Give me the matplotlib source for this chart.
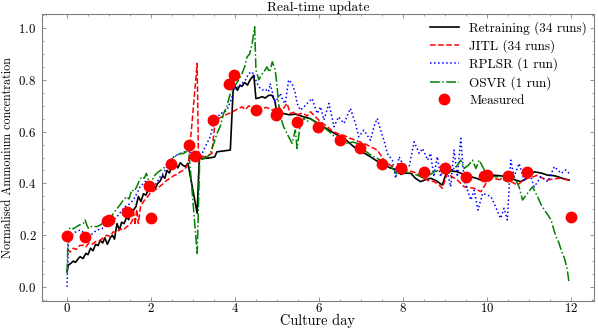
import numpy as np
import matplotlib
matplotlib.use("Agg")
import matplotlib.pyplot as plt
from matplotlib.ticker import MultipleLocator

plt.rcParams['font.family'] = ['cmr10', 'DejaVu Serif']
plt.rcParams['mathtext.fontset'] = 'cm'
plt.rcParams['axes.formatter.use_mathtext'] = True

# ---- data ----
retrain_x = [0.0, 0.03, 0.08, 0.15, 0.2, 0.27, 0.31, 0.38, 0.45, 0.5,
             0.56, 0.62, 0.68, 0.74, 0.79, 0.85, 0.9, 0.96, 1.03, 1.08,
             1.13, 1.19, 1.25, 1.3, 1.36, 1.42, 1.47, 1.52, 1.58, 1.64,
             1.7, 1.76, 1.82, 1.88, 1.93, 1.98, 2.05, 2.1, 2.16, 2.22,
             2.28, 2.33, 2.38, 2.44, 2.5, 2.58, 2.64, 2.7, 2.76, 2.82,
             2.88, 3.1, 3.15, 3.3, 3.45, 3.52, 3.57, 3.7, 3.89, 3.96,
             4.01, 4.06, 4.12, 4.17, 4.23, 4.3, 4.36, 4.45, 4.5, 4.56,
             4.65, 4.72, 4.8, 4.88, 4.95, 5.0, 5.16, 5.3, 5.45, 5.64,
             5.8, 5.9, 6.04, 6.2, 6.3, 6.44, 6.6, 6.7, 6.83, 6.95,
             7.05, 7.23, 7.35, 7.45, 7.55, 7.7, 7.87, 7.95, 8.05, 8.19,
             8.3, 8.42, 8.55, 8.66, 8.8, 8.94, 9.06, 9.18, 9.3, 9.45,
             9.62, 9.75, 9.86, 10.0, 10.14, 10.3, 10.49, 10.65, 10.81, 10.95,
             11.13, 11.3, 11.45, 11.6, 11.69, 11.8, 11.96]
retrain_y = [0.06, 0.085, 0.09, 0.1, 0.095, 0.11, 0.117, 0.11, 0.13, 0.125,
             0.15, 0.14, 0.165, 0.16, 0.18, 0.17, 0.19, 0.165, 0.19, 0.2,
             0.185, 0.245, 0.22, 0.25, 0.245, 0.27, 0.26, 0.3, 0.297, 0.31,
             0.35, 0.33, 0.36, 0.355, 0.375, 0.375, 0.39, 0.38, 0.4, 0.41,
             0.43, 0.42, 0.45, 0.44, 0.47, 0.478, 0.46, 0.48, 0.47, 0.465,
             0.478, 0.285, 0.497, 0.497, 0.5, 0.503, 0.522, 0.525, 0.529, 0.77,
             0.773, 0.76, 0.78, 0.775, 0.79, 0.78, 0.8, 0.818, 0.728, 0.73,
             0.735, 0.73, 0.74, 0.741, 0.72, 0.67, 0.67, 0.665, 0.668, 0.657,
             0.65, 0.64, 0.625, 0.61, 0.6, 0.587, 0.575, 0.56, 0.542, 0.53,
             0.52, 0.503, 0.49, 0.48, 0.471, 0.46, 0.452, 0.435, 0.44, 0.439,
             0.42, 0.407, 0.415, 0.42, 0.41, 0.394, 0.452, 0.448, 0.445, 0.435,
             0.426, 0.42, 0.413, 0.42, 0.432, 0.43, 0.426, 0.415, 0.407, 0.42,
             0.445, 0.44, 0.432, 0.43, 0.426, 0.42, 0.413]

jitl_x = [0.0, 0.03, 0.08, 0.15, 0.22, 0.3, 0.39, 0.45, 0.52, 0.6,
          0.68, 0.79, 0.86, 0.95, 1.02, 1.1, 1.18, 1.26, 1.34, 1.42,
          1.5, 1.55, 1.58, 1.62, 1.66, 1.7, 1.75, 1.82, 1.9, 1.98,
          2.06, 2.14, 2.22, 2.3, 2.38, 2.46, 2.54, 2.62, 2.7, 2.78,
          2.85, 2.9, 3.1, 3.13, 3.16, 3.2, 3.29, 3.38, 3.45, 3.53,
          3.6, 3.69, 3.78, 3.85, 3.93, 4.01, 4.09, 4.17, 4.25, 4.33,
          4.41, 4.5, 4.57, 4.65, 4.73, 4.81, 4.89, 4.97, 5.04, 5.12,
          5.2, 5.24, 5.32, 5.4, 5.48, 5.56, 5.64, 5.72, 5.8, 5.9,
          6.04, 6.2, 6.3, 6.44, 6.6, 6.75, 6.9, 7.07, 7.23, 7.39,
          7.47, 7.55, 7.7, 7.87, 8.0, 8.11, 8.23, 8.35, 8.5, 8.62,
          8.74, 8.86, 8.94, 9.06, 9.18, 9.3, 9.38, 9.46, 9.58, 9.7,
          9.78, 9.86, 9.98, 10.06, 10.14, 10.3, 10.49, 10.6, 10.73, 10.85,
          10.97, 11.1, 11.21, 11.33, 11.45, 11.6, 11.77, 11.87, 11.96]
jitl_y = [0.14, 0.143, 0.135, 0.15, 0.145, 0.16, 0.162, 0.155, 0.17, 0.165,
          0.175, 0.18, 0.19, 0.2, 0.195, 0.213, 0.21, 0.225, 0.22, 0.233,
          0.24, 0.255, 0.3, 0.24, 0.3, 0.245, 0.31, 0.33, 0.345, 0.362,
          0.37, 0.38, 0.39, 0.4, 0.413, 0.42, 0.43, 0.435, 0.445, 0.452,
          0.464, 0.49, 0.864, 0.516, 0.5, 0.505, 0.503, 0.51, 0.516, 0.645,
          0.65, 0.657, 0.665, 0.67, 0.675, 0.683, 0.69, 0.696, 0.685, 0.7,
          0.69, 0.68, 0.695, 0.685, 0.694, 0.69, 0.683, 0.69, 0.696, 0.68,
          0.7, 0.709, 0.67, 0.675, 0.665, 0.67, 0.67, 0.66, 0.677, 0.66,
          0.638, 0.62, 0.605, 0.593, 0.585, 0.574, 0.565, 0.555, 0.542, 0.529,
          0.51, 0.49, 0.47, 0.458, 0.445, 0.452, 0.445, 0.439, 0.42, 0.41,
          0.407, 0.395, 0.381, 0.439, 0.425, 0.413, 0.4, 0.387, 0.385, 0.381,
          0.375, 0.368, 0.4, 0.41, 0.42, 0.415, 0.413, 0.405, 0.394, 0.41,
          0.42, 0.425, 0.432, 0.42, 0.413, 0.418, 0.42, 0.415, 0.413]

rplsr_x = [0.0, 0.03, 0.08, 0.15, 0.23, 0.31, 0.4, 0.51, 0.6, 0.71,
           0.83, 0.95, 1.07, 1.19, 1.28, 1.38, 1.48, 1.58, 1.66, 1.74,
           1.82, 1.9, 2.03, 2.12, 2.22, 2.3, 2.38, 2.46, 2.54, 2.62,
           2.7, 2.78, 2.86, 2.95, 3.05, 3.1, 3.17, 3.23, 3.29, 3.35,
           3.41, 3.49, 3.57, 3.65, 3.73, 3.81, 3.9, 4.01, 4.09, 4.17,
           4.25, 4.33, 4.41, 4.47, 4.53, 4.59, 4.65, 4.72, 4.8, 4.84,
           4.92, 4.96, 5.02, 5.08, 5.14, 5.2, 5.28, 5.36, 5.44, 5.48,
           5.56, 5.64, 5.72, 5.84, 5.96, 6.04, 6.12, 6.24, 6.36, 6.47,
           6.6, 6.75, 6.87, 6.95, 7.07, 7.23, 7.31, 7.39, 7.47, 7.55,
           7.63, 7.75, 7.83, 7.91, 8.03, 8.15, 8.27, 8.39, 8.47, 8.59,
           8.66, 8.74, 8.82, 8.9, 9.02, 9.14, 9.22, 9.3, 9.38, 9.46,
           9.54, 9.62, 9.7, 9.79, 9.9, 10.1, 10.21, 10.33, 10.41, 10.49,
           10.57, 10.65, 10.77, 10.89, 11.01, 11.13, 11.29, 11.45, 11.61, 11.77,
           11.88, 11.96]
rplsr_y = [0.0, 0.169, 0.19, 0.207, 0.215, 0.22, 0.21, 0.194, 0.205, 0.22,
           0.225, 0.246, 0.255, 0.271, 0.29, 0.31, 0.32, 0.336, 0.36, 0.387,
           0.4, 0.413, 0.375, 0.4, 0.426, 0.44, 0.465, 0.48, 0.503, 0.51,
           0.516, 0.52, 0.529, 0.52, 0.51, 0.5, 0.503, 0.52, 0.542, 0.56,
           0.58, 0.632, 0.65, 0.67, 0.675, 0.683, 0.72, 0.773, 0.77, 0.786,
           0.8, 0.825, 0.831, 0.81, 0.786, 0.77, 0.761, 0.765, 0.754, 0.786,
           0.735, 0.709, 0.73, 0.748, 0.72, 0.709, 0.8, 0.786, 0.748, 0.709,
           0.683, 0.695, 0.709, 0.728, 0.67, 0.696, 0.645, 0.709, 0.619, 0.657,
           0.632, 0.69, 0.632, 0.58, 0.606, 0.567, 0.619, 0.651, 0.606, 0.567,
           0.516, 0.49, 0.42, 0.503, 0.465, 0.465, 0.561, 0.516, 0.535, 0.49,
           0.516, 0.426, 0.503, 0.426, 0.477, 0.387, 0.529, 0.426, 0.574, 0.413,
           0.374, 0.336, 0.374, 0.297, 0.362, 0.349, 0.31, 0.265, 0.304, 0.259,
           0.49, 0.426, 0.477, 0.413, 0.445, 0.387, 0.426, 0.407, 0.465, 0.439,
           0.452, 0.439]

osvr_x = [0.0, 0.03, 0.08, 0.15, 0.23, 0.3, 0.39, 0.43, 0.47, 0.51,
          0.6, 0.71, 0.8, 0.88, 0.95, 1.02, 1.1, 1.18, 1.26, 1.34,
          1.42, 1.48, 1.54, 1.6, 1.66, 1.72, 1.78, 1.84, 1.89, 1.98,
          2.06, 2.14, 2.22, 2.3, 2.38, 2.46, 2.54, 2.62, 2.7, 2.78,
          2.9, 3.1, 3.16, 3.25, 3.33, 3.4, 3.45, 3.51, 3.57, 3.65,
          3.73, 3.81, 3.89, 3.95, 4.01, 4.09, 4.17, 4.23, 4.29, 4.35,
          4.41, 4.47, 4.5, 4.57, 4.63, 4.69, 4.76, 4.83, 4.89, 4.96,
          5.0, 5.04, 5.1, 5.16, 5.22, 5.28, 5.36, 5.44, 5.48, 5.56,
          5.64, 5.72, 5.8, 5.88, 5.96, 6.08, 6.2, 6.32, 6.44, 6.56,
          6.68, 6.8, 6.92, 7.0, 7.07, 7.15, 7.23, 7.35, 7.47, 7.59,
          7.71, 7.8, 7.87, 7.95, 8.07, 8.19, 8.35, 8.5, 8.62, 8.74,
          8.86, 8.98, 9.1, 9.22, 9.3, 9.38, 9.46, 9.56, 9.66, 9.74,
          9.82, 9.94, 10.1, 10.26, 10.38, 10.49, 10.57, 10.65, 10.77, 10.85,
          10.97, 11.09, 11.21, 11.29, 11.37, 11.45, 11.53, 11.6, 11.65, 11.72,
          11.77, 11.85, 11.9, 11.93, 11.96]
osvr_y = [0.053, 0.22, 0.23, 0.225, 0.233, 0.24, 0.246, 0.259, 0.24, 0.226,
          0.235, 0.233, 0.24, 0.25, 0.259, 0.255, 0.284, 0.3, 0.317, 0.335,
          0.349, 0.34, 0.375, 0.37, 0.387, 0.41, 0.426, 0.42, 0.439, 0.387,
          0.426, 0.44, 0.45, 0.458, 0.475, 0.49, 0.5, 0.51, 0.515, 0.516,
          0.529, 0.13, 0.49, 0.495, 0.503, 0.51, 0.535, 0.56, 0.593, 0.62,
          0.67, 0.7, 0.748, 0.76, 0.78, 0.8, 0.825, 0.85, 0.889, 0.9,
          0.941, 1.005, 0.838, 0.8, 0.82, 0.831, 0.85, 0.83, 0.87, 0.838,
          0.78, 0.709, 0.65, 0.619, 0.6, 0.58, 0.555, 0.606, 0.535, 0.632,
          0.651, 0.64, 0.651, 0.64, 0.632, 0.62, 0.606, 0.59, 0.567, 0.56,
          0.555, 0.56, 0.555, 0.54, 0.529, 0.52, 0.51, 0.5, 0.49, 0.475,
          0.465, 0.45, 0.432, 0.452, 0.445, 0.439, 0.432, 0.42, 0.43, 0.445,
          0.45, 0.458, 0.44, 0.458, 0.47, 0.49, 0.458, 0.47, 0.49, 0.458,
          0.49, 0.452, 0.426, 0.426, 0.415, 0.407, 0.415, 0.426, 0.387, 0.336,
          0.362, 0.387, 0.349, 0.32, 0.297, 0.28, 0.259, 0.22, 0.194, 0.17,
          0.143, 0.111, 0.08, 0.053, 0.014]

measured_x = [0.0, 0.43, 0.95, 1.0, 1.42, 1.96, 2.0, 2.47, 2.9, 3.05,
              3.48, 3.87, 3.97, 4.49, 4.97, 5.0, 5.48, 5.97, 6.5, 6.98,
              7.51, 7.96, 8.5, 9.0, 9.51, 9.93, 10.0, 10.5, 10.97, 12.0]
measured_y = [0.197, 0.194, 0.255, 0.258, 0.29, 0.39, 0.265, 0.475, 0.55, 0.507,
              0.647, 0.786, 0.818, 0.683, 0.665, 0.673, 0.638, 0.619, 0.568, 0.535,
              0.477, 0.458, 0.445, 0.458, 0.426, 0.43, 0.432, 0.43, 0.443, 0.27]

# ---- plot ----
fig, ax = plt.subplots(figsize=(5.98, 3.29), dpi=100)
fig.subplots_adjust(left=0.07, right=0.993, bottom=0.086, top=0.957)

ax.plot(retrain_x, retrain_y, color='black', lw=1.2, label='Retraining (34 runs)')
ax.plot(jitl_x, jitl_y, color='red', ls='--', lw=1.1, label='JITL (34 runs)')
ax.plot(rplsr_x, rplsr_y, color='blue', ls=':', lw=1.1, label='RPLSR (1 run)')
ax.plot(osvr_x, osvr_y, color='green', ls='-.', lw=1.1, label='OSVR (1 run)')
ax.plot(measured_x, measured_y, 'o', color='red', ms=7.5, ls='none', label='Measured')

ax.set_xlim(-0.6, 12.55)
ax.set_ylim(-0.053, 1.054)
ax.xaxis.set_major_locator(MultipleLocator(2))
ax.xaxis.set_minor_locator(MultipleLocator(0.5))
ax.yaxis.set_major_locator(MultipleLocator(0.2))
ax.yaxis.set_minor_locator(MultipleLocator(0.05))
ax.tick_params(which='both', direction='in', top=True, right=True,
               color='0.5', labelsize=9.3)
ax.tick_params(axis='x', pad=1)
ax.tick_params(axis='y', pad=4)
ax.tick_params(which='major', length=3, width=0.6)
ax.tick_params(which='minor', length=1.5, width=0.5)
for sp in ax.spines.values():
    sp.set_color('0.5')
    sp.set_linewidth(0.8)

ax.set_xlabel('Culture day', fontsize=10.3, va='baseline')
ax.xaxis.set_label_coords(0.5, -0.084)
ax.set_ylabel('Normalised Ammonium concentration', fontsize=8.7, labelpad=3)
ax.set_title('Real-time update', fontsize=9.7, pad=2)

ax.legend(loc='upper right', frameon=False, fontsize=9.5, labelspacing=0.35,
          handlelength=2.2, borderaxespad=0.1)

fig.savefig('out.png', dpi=100)
